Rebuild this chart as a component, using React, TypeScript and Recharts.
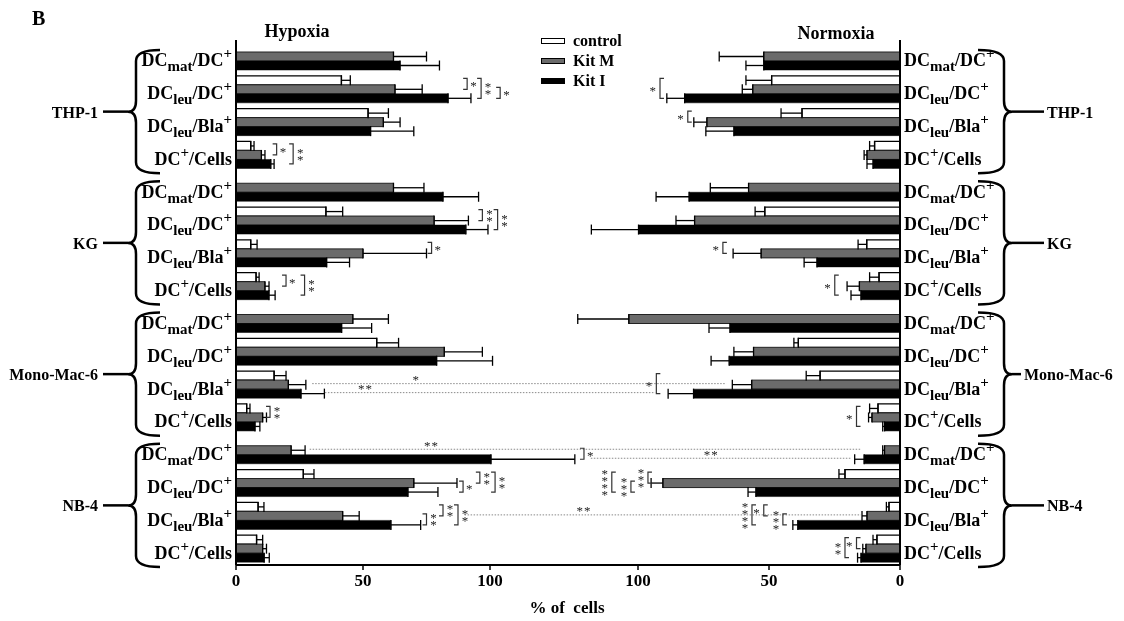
import React from 'react';
import { BarChart, Bar, XAxis, YAxis, ErrorBar, ReferenceLine, Legend } from 'recharts';

const SERIF = "'Liberation Serif', 'Times New Roman', Times, serif";

// ---------- data ----------
const GROUPS = ['THP-1', 'KG', 'Mono-Mac-6', 'NB-4'];
const MEASURES = ['DCmat/DC+', 'DCleu/DC+', 'DCleu/Bla+', 'DC+/Cells'];
const X_TICKS = [0, 50, 100];
const X_DOMAIN: [number, number] = [0, 150];

const HYPOXIA_CONTROL = [null, 41.5, 52, 5.8, null, 35.4, 5.8, 7.9, null, 55.4, 15, 4.2, null, 26.5, 8.7, 8.1];
const HYPOXIA_CONTROL_ERR = [null, 3.5, 8, 1.3, null, 6.6, 2.5, 1.2, null, 8.6, 4.7, 1.3, null, 4.2, 2.3, 2.4];
const HYPOXIA_KITM = [62, 62.6, 58, 10, 62, 78, 50, 11.4, 46, 82, 20.6, 10.5, 21.7, 70, 42, 10.5];
const HYPOXIA_KITM_ERR = [13, 10.7, 6.6, 1.4, 12, 13.5, 25, 1.6, 14, 15, 6.9, 1.5, 5.5, 17, 6.5, 1.5];
const HYPOXIA_KITI = [64.6, 83.5, 53, 13.7, 81.5, 90.5, 35.7, 13, 41.6, 79, 25.6, 7.5, 100.4, 67.7, 61, 11.1];
const HYPOXIA_KITI_ERR = [15.5, 9, 17, 1.3, 14, 8.7, 9, 2.4, 11.8, 22, 9.2, 1.9, 33, 11.8, 11.7, 2];

const NORMOXIA_CONTROL = [null, 49, 37.4, 9.7, null, 51.6, 12.7, 8, null, 38.8, 30.5, 8.4, null, 21, 4.2, 8.8];
const NORMOXIA_CONTROL_ERR = [null, 9.8, 8, 1.9, null, 3.7, 3.3, 3.6, null, 1.7, 5.3, 3.2, null, 2.3, 1, 1.5];
const NORMOXIA_KITM = [52, 56.2, 73.7, 12.6, 57.8, 78.4, 53, 15.5, 103.5, 55.9, 56.6, 10.7, 5.9, 90.5, 12.6, 13];
const NORMOXIA_KITM_ERR = [17, 4, 5, 1.1, 14.6, 7.1, 10.7, 4.7, 19.5, 7.5, 7.4, 1.3, 0.7, 4.5, 1.9, 1.2];
const NORMOXIA_KITI = [52, 82.2, 63.4, 10.3, 80.5, 99.8, 31.7, 14.9, 64.9, 65.2, 78.8, 5.9, 13.7, 55, 39, 14.9];
const NORMOXIA_KITI_ERR = [6.8, 6.8, 10.7, 2.3, 12.6, 18, 4.9, 3.8, 8, 6.9, 9.7, 0.7, 3.6, 3, 1.9, 1.3];

// significance brackets: category index, series from/to (0 control, 1 Kit M, 2 Kit I), x value, stars
const HYPOXIA_BRACKETS = [
  { cat: 1, from: 0, to: 1, at: 91, stars: '*', stack: false },
  { cat: 1, from: 0, to: 2, at: 96.5, stars: '**', stack: true },
  { cat: 1, from: 1, to: 2, at: 104, stars: '*', stack: false },
  { cat: 3, from: 0, to: 1, at: 16, stars: '*', stack: false },
  { cat: 3, from: 0, to: 2, at: 22.5, stars: '**', stack: true },
  { cat: 5, from: 0, to: 1, at: 97, stars: '**', stack: true },
  { cat: 5, from: 0, to: 2, at: 103, stars: '**', stack: true },
  { cat: 6, from: 0, to: 1, at: 77, stars: '*', stack: false },
  { cat: 7, from: 0, to: 1, at: 19.7, stars: '*', stack: false },
  { cat: 7, from: 0, to: 2, at: 27, stars: '**', stack: true },
  { cat: 11, from: 0, to: 1, at: 13.4, stars: '**', stack: true },
  { cat: 12, from: 1, to: 2, at: 137, stars: '*', stack: false },
  { cat: 13, from: 1, to: 2, at: 89.4, stars: '*', stack: false },
  { cat: 13, from: 0, to: 1, at: 96, stars: '**', stack: true },
  { cat: 13, from: 0, to: 2, at: 102, stars: '**', stack: true },
  { cat: 14, from: 1, to: 2, at: 75, stars: '**', stack: true },
  { cat: 14, from: 0, to: 1, at: 81.5, stars: '**', stack: true },
  { cat: 14, from: 0, to: 2, at: 87.4, stars: '**', stack: true },
];
const NORMOXIA_BRACKETS = [
  { cat: 1, from: 0, to: 2, at: 91.6, stars: '*', stack: false },
  { cat: 2, from: 0, to: 1, at: 81, stars: '*', stack: false },
  { cat: 6, from: 0, to: 1, at: 67.6, stars: '*', stack: false },
  { cat: 7, from: 0, to: 2, at: 24.9, stars: '*', stack: false },
  { cat: 10, from: 0, to: 2, at: 93, stars: '*', stack: false },
  { cat: 11, from: 0, to: 2, at: 16.6, stars: '*', stack: false },
  { cat: 13, from: 0, to: 2, at: 110, stars: '****', stack: true },
  { cat: 13, from: 1, to: 2, at: 102.7, stars: '***', stack: true },
  { cat: 13, from: 0, to: 1, at: 96.2, stars: '***', stack: true },
  { cat: 14, from: 0, to: 2, at: 56.5, stars: '****', stack: true },
  { cat: 14, from: 0, to: 1, at: 52, stars: '*', stack: false },
  { cat: 14, from: 1, to: 2, at: 44.7, stars: '***', stack: true },
  { cat: 15, from: 0, to: 2, at: 21, stars: '**', stack: true },
  { cat: 15, from: 0, to: 1, at: 16.6, stars: '*', stack: false },
];
// dotted comparison lines (values in the panel's own x units)
const HYPOXIA_LINKS = [
  { cat: 10, level: 1, from: 30, to: 193, label: '*', labelAt: 71 },
  { cat: 10, level: 2, from: 35, to: 165, label: '**', labelAt: 51 },
  { cat: 12, level: 1, from: 29, to: 246, label: '**', labelAt: 77 },
  { cat: 14, level: 1, from: 90, to: 246, label: '**', labelAt: 137 },
];
const NORMOXIA_LINKS = [
  { cat: 12, level: 2, from: 118, to: 18.5, label: '**', labelAt: 72 },
];

const SERIES = [
  { key: 'control', errKey: 'controlErr', name: 'control', fill: '#ffffff', stroke: '#000000', sw: 1.3 },
  { key: 'kitM', errKey: 'kitMErr', name: 'Kit M', fill: '#6b6b6b', stroke: '#222222', sw: 1 },
  { key: 'kitI', errKey: 'kitIErr', name: 'Kit I', fill: '#000000', stroke: '#000000', sw: 0.5 },
];

// ---------- layout ----------
const W = 1108;
const H = 605;
const PLOT_TOP = 32;
const X_AXIS_H = 30;
const MARGIN_BOTTOM = 18;
const PLOT_H = H - PLOT_TOP - X_AXIS_H - MARGIN_BOTTOM;
const BAND = PLOT_H / 16;
const BAR_SIZE = 9;
const BAR_OFFSET = Math.floor((BAND - 3 * BAR_SIZE) / 2);
const levelY = (center: number, i: number) => center - BAND / 2 + BAR_OFFSET + (i + 0.5) * BAR_SIZE;
const L_AXIS = 228;
const L_RIGHT = 609;
const R_LEFT = 499;
const R_AXIS = 892;

function buildRows(c: any[], ce: any[], m: any[], me: any[], k: any[], ke: any[]) {
  const rows: any[] = [];
  GROUPS.forEach((g, gi) =>
    MEASURES.forEach((ms, mi) => {
      const i = gi * 4 + mi;
      rows.push({
        cat: `${g}|${ms}`,
        control: c[i], controlErr: ce[i],
        kitM: m[i], kitMErr: me[i],
        kitI: k[i], kitIErr: ke[i],
      });
    })
  );
  return rows;
}

const errAccessor = (valueKey: string, errKey: string) => (d: any) => {
  const p = d && d.payload ? d.payload : d;
  if (!p) return null;
  const v = p[valueKey];
  const e = p[errKey];
  return v == null || e == null ? null : [0, e];
};

function MeasureLabel({ measure, x, y, anchor }: any) {
  const m = measure.match(/^DC(mat|leu)?(\+)?\/(.+?)(\+)?$/) || [];
  const sub = m[1];
  const supDC = m[2];
  const rest = m[3];
  const trail = m[4];
  return (
    <text x={x} y={y + 10} textAnchor={anchor} fontSize={18} fontWeight={700} fontFamily={SERIF} fill="#000">
      <tspan>DC</tspan>
      {sub && <tspan fontSize={15} dy={5}>{sub}</tspan>}
      {supDC && <tspan fontSize={15} dy={-8}>+</tspan>}
      <tspan dy={sub ? -5 : supDC ? 8 : 0}>{'/' + rest}</tspan>
      {trail && <tspan fontSize={15} dy={-8}>+</tspan>}
    </text>
  );
}

function GroupBrace({ side, group, top, bottom }: any) {
  const mid = (top + bottom) / 2;
  const r = 11;
  const textStyle = { fontSize: 16, fontWeight: 700, fontFamily: SERIF, fill: '#000' } as any;
  if (side === 'left') {
    const xh = 152, xv = 128, xm = 120;
    const d = `M${xh},${top} Q${xv},${top} ${xv},${top + r} L${xv},${mid - r} Q${xv},${mid} ${xm},${mid} Q${xv},${mid} ${xv},${mid + r} L${xv},${bottom - r} Q${xv},${bottom} ${xh},${bottom}`;
    return (
      <g>
        <path d={d} fill="none" stroke="#000" strokeWidth={2.5} />
        <line x1={95} y1={mid} x2={xm} y2={mid} stroke="#000" strokeWidth={2.5} />
        <text x={90} y={mid + 6} textAnchor="end" {...textStyle}>{group}</text>
      </g>
    );
  }
  const xh = 970, xv = 996, xm = 1004;
  const long = group.length > 6;
  const tx = long ? 1016 : 1039;
  const d = `M${xh},${top} Q${xv},${top} ${xv},${top + r} L${xv},${mid - r} Q${xv},${mid} ${xm},${mid} Q${xv},${mid} ${xv},${mid + r} L${xv},${bottom - r} Q${xv},${bottom} ${xh},${bottom}`;
  return (
    <g>
      <path d={d} fill="none" stroke="#000" strokeWidth={2.5} />
      <line x1={xm} y1={mid} x2={tx - 3} y2={mid} stroke="#000" strokeWidth={2.5} />
      <text x={tx} y={mid + 6} textAnchor="start" {...textStyle}>{group}</text>
    </g>
  );
}

function CategoryTick(props: any) {
  const { x, y, payload, side } = props;
  const [group, measure] = String(payload.value).split('|');
  const mi = MEASURES.indexOf(measure);
  const isLeft = side === 'left';
  const gTop = y - BAND / 2;
  return (
    <g>
      <MeasureLabel measure={measure} x={x} y={y} anchor={isLeft ? 'end' : 'start'} />
      {mi === 0 && <GroupBrace side={side} group={group} top={gTop + 10} bottom={gTop + 4 * BAND + 2} />}
    </g>
  );
}

function Stars({ x, yc, text, stack, side }: any) {
  const st = { fontSize: 13, fontFamily: SERIF, fill: '#222' } as any;
  if (!stack) {
    return (
      <text x={side === 'left' ? x + 3 : x - 3} y={yc + 6.5} textAnchor={side === 'left' ? 'start' : 'end'} letterSpacing={1} {...st}>
        {text}
      </text>
    );
  }
  const chars = Array.from(String(text));
  const n = chars.length;
  const cx = side === 'left' ? x + 7 : x - 7;
  return (
    <text x={cx} y={yc + 6.5} textAnchor="middle" {...st}>
      {chars.map((c, k) => (
        <tspan key={k} x={cx} y={yc + (k - (n - 1) / 2) * 7 + 6.5}>{c}</tspan>
      ))}
    </text>
  );
}

const makeBracket = (b: any, side: string) => (props: any) => {
  const { x1, y1 } = props;
  if (x1 == null || y1 == null || isNaN(x1) || isNaN(y1)) return <g />;
  const ya = levelY(y1, b.from) - 1;
  const yb = levelY(y1, b.to) + 1;
  const t = side === 'left' ? -4 : 4;
  return (
    <g>
      <path d={`M${x1 + t},${ya} H${x1} V${yb} H${x1 + t}`} fill="none" stroke="#333" strokeWidth={1.2} />
      <Stars x={x1} yc={(ya + yb) / 2} text={b.stars} stack={b.stack} side={side} />
    </g>
  );
};

const makeLink = (l: any) => (props: any) => {
  const { x1, y1, x2 } = props;
  if (x1 == null || y1 == null || isNaN(x1)) return <g />;
  const y = levelY(y1, l.level);
  const lx = x1 + ((l.labelAt - l.from) / (l.to - l.from)) * (x2 - x1);
  return (
    <g>
      <line x1={x1} y1={y} x2={x2} y2={y} stroke="#8a8a8a" strokeWidth={1} strokeDasharray="1.5 1.5" />
      <text x={lx} y={y + 0.5} textAnchor="middle" fontSize={13} fontFamily={SERIF} fill="#222" letterSpacing={1}>{l.label}</text>
    </g>
  );
};

function LegendContent() {
  return (
    <div style={{ fontFamily: SERIF, fontWeight: 700, fontSize: 16, color: '#000', lineHeight: '20px' }}>
      {SERIES.map((s) => (
        <div key={s.key} style={{ display: 'flex', alignItems: 'center', height: 20 }}>
          <span style={{ display: 'inline-block', width: 22, height: 4, background: s.fill, border: '1.5px solid #000', marginRight: 8 }} />
          <span>{s.name}</span>
        </div>
      ))}
    </div>
  );
}

function Panel({ side, data, brackets, links }: any) {
  const isLeft = side === 'left';
  const margin = isLeft
    ? { top: PLOT_TOP, right: W - L_RIGHT, bottom: MARGIN_BOTTOM, left: 0 }
    : { top: PLOT_TOP, right: 0, bottom: MARGIN_BOTTOM, left: R_LEFT };
  return (
    <BarChart layout="vertical" width={W} height={H} data={data} margin={margin} barGap={0}>
      <XAxis
        type="number"
        domain={X_DOMAIN}
        ticks={X_TICKS}
        reversed={!isLeft}
        allowDataOverflow
        interval={0}
        height={X_AXIS_H}
        axisLine={{ stroke: '#000', strokeWidth: 2 }}
        tickLine={{ stroke: '#000', strokeWidth: 1.5 }}
        tickSize={5}
        tickMargin={4}
        tick={{ fill: '#000', fontSize: 17, fontWeight: 700, fontFamily: SERIF }}
      />
      <YAxis
        type="category"
        dataKey="cat"
        orientation={isLeft ? 'left' : 'right'}
        width={isLeft ? L_AXIS : W - R_AXIS}
        interval={0}
        tickLine={false}
        tickSize={0}
        tickMargin={4}
        axisLine={{ stroke: '#000', strokeWidth: 2 }}
        tick={(p: any) => <CategoryTick {...p} side={side} />}
      />
      {SERIES.map((s) => (
        <Bar
          key={s.key}
          dataKey={s.key}
          name={s.name}
          fill={s.fill}
          stroke={s.stroke}
          strokeWidth={s.sw}
          barSize={BAR_SIZE}
          isAnimationActive={false}
        >
          <ErrorBar dataKey={errAccessor(s.key, s.errKey)} direction="x" width={5} stroke="#000" strokeWidth={1.3} isAnimationActive={false} />
        </Bar>
      ))}
      {links.map((l: any, i: number) => (
        <ReferenceLine
          key={'l' + i}
          segment={[{ x: l.from, y: data[l.cat].cat }, { x: l.to, y: data[l.cat].cat }]}
          ifOverflow="visible"
          shape={makeLink(l)}
        />
      ))}
      {brackets.map((b: any, i: number) => (
        <ReferenceLine
          key={'b' + i}
          segment={[{ x: b.at, y: data[b.cat].cat }, { x: b.at, y: data[b.cat].cat }]}
          ifOverflow="visible"
          shape={makeBracket(b, side)}
        />
      ))}
      {isLeft && (
        <Legend
          layout="vertical"
          align="center"
          verticalAlign="middle"
          content={() => <LegendContent />}
          wrapperStyle={{ position: 'absolute', left: 533, top: 23, width: 110 }}
        />
      )}
    </BarChart>
  );
}

export default function App() {
  const hyp = buildRows(HYPOXIA_CONTROL, HYPOXIA_CONTROL_ERR, HYPOXIA_KITM, HYPOXIA_KITM_ERR, HYPOXIA_KITI, HYPOXIA_KITI_ERR);
  const nor = buildRows(NORMOXIA_CONTROL, NORMOXIA_CONTROL_ERR, NORMOXIA_KITM, NORMOXIA_KITM_ERR, NORMOXIA_KITI, NORMOXIA_KITI_ERR);
  const title = { fontFamily: SERIF, fontWeight: 700, fill: '#000' } as any;
  const layer = { position: 'absolute', left: 0, top: 0, willChange: 'transform' } as any;
  return (
    <div style={{ position: 'relative', width: W, height: H }}>
      <div style={layer}>
        <Panel side="left" data={hyp} brackets={HYPOXIA_BRACKETS} links={HYPOXIA_LINKS} />
      </div>
      <div style={layer}>
        <Panel side="right" data={nor} brackets={NORMOXIA_BRACKETS} links={NORMOXIA_LINKS} />
      </div>
      <svg width={W} height={613} style={{ ...layer, pointerEvents: 'none' }}>
        <text x={24} y={17} fontSize={20} {...title}>B</text>
        <text x={289} y={29} textAnchor="middle" fontSize={18} {...title}>Hypoxia</text>
        <text x={828} y={31} textAnchor="middle" fontSize={18} {...title}>Normoxia</text>
        <text x={559} y={605} textAnchor="middle" fontSize={17} style={{ whiteSpace: 'pre' }} {...title}>{'% of  cells'}</text>
      </svg>
    </div>
  );
}
